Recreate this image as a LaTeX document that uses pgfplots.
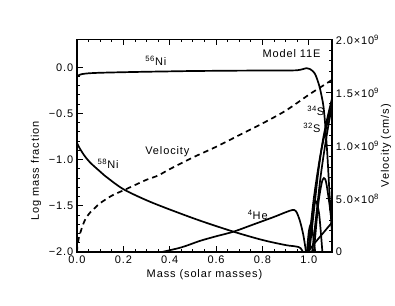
\documentclass[border=0pt]{standalone}
\usepackage{fontspec}
\setmainfont{Liberation Sans}[LetterSpace=8]
\usepackage{pgfplots}
\pgfplotsset{compat=1.18}
\begin{document}
\fontsize{11}{13}\selectfont
\begin{tikzpicture}
\useasboundingbox (-77pt,-53pt) rectangle (318pt,252pt);
\begin{axis}[
  scale only axis, width=255pt, height=212.5pt,
  xmin=0, xmax=1.1, ymin=-2, ymax=0.3,
  axis line style={line width=1.2pt},
  every tick/.style={black, line width=0.9pt},
  tick align=inside, major tick length=6pt, minor tick length=3pt,
  xtick={0,0.2,0.4,0.6,0.8,1.0}, xticklabels={0.0,0.2,0.4,0.6,0.8,1.0},
  minor x tick num=3,
  ytick={-2,-1.5,-1,-0.5,0}, yticklabels={−2.0,−1.5,−1.0,−0.5,0.0},
  minor y tick num=4,
  xtick pos=both, ytick pos=left,
  xlabel={Mass (solar masses)},
  ylabel={Log mass fraction},
  xlabel style={at={(axis description cs:0.5,-0.108)}, anchor=center},
  ylabel style={at={(axis description cs:-0.161,0.381)}, anchor=center},
  every axis plot/.append style={black, line width=1.7pt},
  clip=true,
]
% 56Ni
\addplot[smooth] coordinates {(0,-0.10) (0.005,-0.09) (0.02,-0.075) (0.05,-0.066) (0.1,-0.06) (0.2,-0.054) (0.3,-0.049) (0.4,-0.045) (0.5,-0.041) (0.6,-0.039) (0.7,-0.037) (0.8,-0.036) (0.9,-0.035) (0.95,-0.033) (0.975,-0.02) (0.99,-0.01) (1.005,-0.02) (1.02,-0.05) (1.03,-0.09) (1.045,-0.2) (1.055,-0.31) (1.063,-0.42) (1.07,-0.6) (1.08,-0.95) (1.09,-1.4) (1.1,-1.8)};
% 58Ni
\addplot[smooth] coordinates {(0,-0.82) (0.01,-0.87) (0.03,-0.95) (0.056,-1.03) (0.1,-1.13) (0.128,-1.19) (0.2,-1.32) (0.3,-1.44) (0.4,-1.54) (0.53,-1.66) (0.675,-1.78) (0.8,-1.87) (0.9,-1.925) (0.944,-1.94) (0.965,-1.96) (0.985,-2.05)};
% 4He
\addplot[smooth] coordinates {(0.33,-2.03) (0.35,-2.01) (0.45,-1.95) (0.53,-1.88) (0.6,-1.83) (0.675,-1.78) (0.763,-1.7) (0.85,-1.62) (0.9,-1.57) (0.93,-1.545) (0.945,-1.56) (0.96,-1.65) (0.975,-1.8) (0.985,-1.95) (0.99,-2.05)};
% outer layer species
\addplot[smooth] coordinates {(1.0,-2.05) (1.02,-1.6) (1.04,-1.15) (1.06,-0.8) (1.08,-0.55) (1.1,-0.34)};
\addplot[smooth] coordinates {(1.012,-2.05) (1.03,-1.65) (1.05,-1.2) (1.07,-0.85) (1.09,-0.55) (1.1,-0.44)};
\addplot[smooth] coordinates {(0.995,-2.05) (1.02,-1.45) (1.05,-0.95) (1.08,-0.6) (1.1,-0.4)};
\addplot[smooth] coordinates {(1.02,-2.05) (1.04,-1.5) (1.055,-1.26) (1.065,-1.2) (1.075,-1.25) (1.09,-1.5) (1.1,-1.7)};
\addplot[smooth] coordinates {(0.998,-2.05) (1.015,-1.6) (1.03,-1.45) (1.045,-1.6) (1.06,-2.05)};
\addplot[smooth] coordinates {(0.99,-2.05) (1.0,-1.78) (1.01,-1.7) (1.02,-1.85) (1.03,-2.05)};
\addplot[smooth] coordinates {(0.99,-2.02) (1.02,-1.92) (1.06,-1.8) (1.1,-1.68)};
\node at (axis cs:0.34,0.07) {\textsuperscript{56}Ni};
\node at (axis cs:0.134,-1.05) {\textsuperscript{58}Ni};
\node at (axis cs:0.39,-0.91) {Velocity};
\node at (axis cs:0.78,-1.6) {\textsuperscript{4}He};
\node[anchor=east] at (axis cs:1.067,0.145) {Model 11E};
\node at (axis cs:1.03,-0.47) {\textsuperscript{34}S};
\node at (axis cs:1.013,-0.66) {\textsuperscript{32}S};
\end{axis}
\begin{axis}[
  scale only axis, width=255pt, height=212.5pt,
  xmin=0, xmax=1.1, ymin=0, ymax=2,
  axis x line=none, axis y line*=right,
  axis line style={line width=1.2pt},
  every tick/.style={black, line width=0.9pt},
  tick align=inside, major tick length=6pt, minor tick length=3pt,
  ytick={0,0.5,1,1.5,2},
  yticklabels={0,5.0×10\textsuperscript{8},1.0×10\textsuperscript{9},1.5×10\textsuperscript{9},2.0×10\textsuperscript{9}},
  minor y tick num=4,
  ylabel={Velocity (cm/s)},
  ylabel style={at={(axis description cs:1.212,0.5)}, anchor=center},
]
\addplot[black, line width=1.7pt, dash pattern=on 5.5pt off 4pt, smooth] coordinates {(0,0) (0.002,0.06) (0.005,0.1) (0.01,0.15) (0.02,0.22) (0.03,0.28) (0.042,0.33) (0.06,0.38) (0.08,0.42) (0.1,0.46) (0.15,0.53) (0.2,0.58) (0.25,0.63) (0.3,0.68) (0.35,0.72) (0.4,0.78) (0.5,0.89) (0.6,0.99) (0.7,1.1) (0.8,1.21) (0.9,1.33) (1.0,1.48) (1.05,1.55) (1.1,1.62)};
\end{axis}
\end{tikzpicture}
\end{document}
